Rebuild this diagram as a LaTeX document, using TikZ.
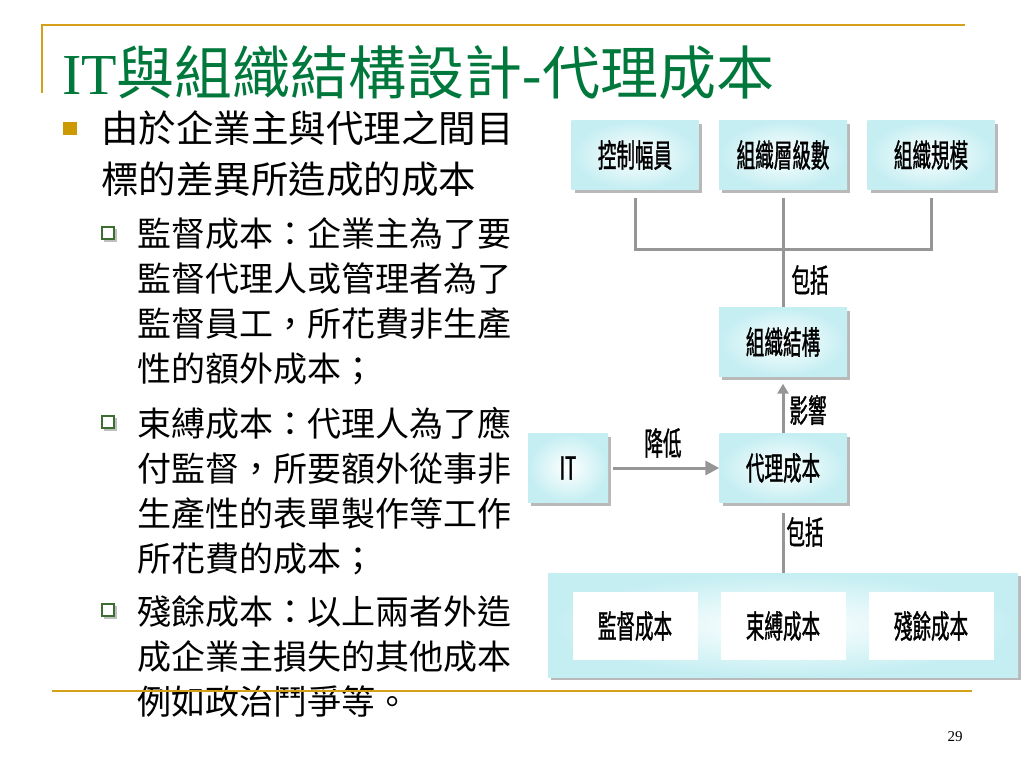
\documentclass[tikz,border=0pt]{standalone}
\usepackage{fontspec}
\setmainfont{Liberation Serif}
\newfontfamily\cjk{Noto Sans CJK TC}
\newfontfamily\diafont[FakeStretch=0.58,FakeBold=1]{Noto Sans CJK TC}
\usetikzlibrary{arrows.meta,shadows}

\definecolor{titlegreen}{RGB}{0,120,60}
\definecolor{rulegold}{RGB}{212,160,23}
\definecolor{bulletgold}{RGB}{204,153,0}
\definecolor{bulletgreen}{RGB}{60,110,50}
\definecolor{boxcyan}{RGB}{196,238,242}
\definecolor{linkgray}{RGB}{150,150,150}

\tikzset{
    box/.style={rectangle, inner sep=0pt, minimum height=69pt,
        inner color=white, outer color=boxcyan,
        drop shadow={shadow xshift=3pt, shadow yshift=-3pt, fill=gray!55, opacity=1},
        font=\diafont\fontsize{32}{34}\selectfont},
    costbox/.style={rectangle, fill=white, inner sep=0pt, minimum width=125pt,
        minimum height=68pt, font=\diafont\fontsize{32}{34}\selectfont},
    link/.style={draw=linkgray, line width=3pt},
    linklabel/.style={font=\diafont\fontsize{32}{34}\selectfont},
    textblock/.style={anchor=north west, inner sep=0pt, align=left},
}

\begin{document}
\begin{tikzpicture}[x=1pt, y=-1pt]
        \useasboundingbox (0,0) rectangle (1024,768);

        % title and rules
        \node[anchor=north west, inner sep=0pt, text=titlegreen, font=\fontsize{58}{62}\selectfont] (title) at (62,45)
            {IT{\cjk 與組織結構設計}-{\cjk 代理成本}};
        \draw[rulegold, line width=2pt] (42,93) -- (42,25) -- (965,25);

        % bullets
        \fill[bulletgold] (63,122) rectangle (77,135);
        \foreach \y in {234, 423, 611} {
            \fill[gray!50] (104,\y-5) rectangle ++(13,13);
            \draw[fill=white, draw=bulletgreen, line width=1.8pt] (102,\y-7) rectangle ++(12,12);
        }
        \node[textblock, font=\cjk\fontsize{37.5}{51}\selectfont] (intro) at (101,110)
            {由於企業主與代理之間目\\標的差異所造成的成本};
        \node[textblock, font=\cjk\fontsize{34}{45}\selectfont] (monitortext) at (137,217)
            {監督成本：企業主為了要\\監督代理人或管理者為了\\監督員工，所花費非生產\\性的額外成本；};
        \node[textblock, font=\cjk\fontsize{34}{45}\selectfont] (bondtext) at (137,407)
            {束縛成本：代理人為了應\\付監督，所要額外從事非\\生產性的表單製作等工作\\所花費的成本；};
        \node[textblock, font=\cjk\fontsize{34}{45}\selectfont] (residualtext) at (137,595)
            {殘餘成本：以上兩者外造\\成企業主損失的其他成本\\例如政治鬥爭等。};

        % diagram
        \node[box, minimum width=127pt] (span) at (635,155) {控制幅員};
        \node[box, minimum width=128pt] (levels) at (783,155) {組織層級數};
        \node[box, minimum width=127pt] (scale) at (931,155) {組織規模};
        \node[box, minimum width=128pt] (structure) at (783,342) {組織結構};
        \node[box, minimum width=80pt] (it) at (568,468) {IT};
        \node[box, minimum width=127pt] (agency) at (783,468) {代理成本};
        \node[box, minimum width=470pt, minimum height=104pt] (costs) at (783,625) {};
        \node[costbox] (monitor) at (635,626) {監督成本};
        \node[costbox] (bonding) at (783,626) {束縛成本};
        \node[costbox] (residual) at (931,626) {殘餘成本};

        \coordinate (join) at (783,249);
        \draw[link] ([yshift=-8pt]span.south) -- (span.south |- join) -- (scale.south |- join) -- ([yshift=-8pt]scale.south);
        \draw[link] ([yshift=-8pt]levels.south) -- (structure.north);
        \node[linklabel] (includes1) at (810,280) {包括};

        \draw[link, -{Triangle[width=11pt, length=10pt]}] (agency.north) -- ([yshift=-7pt]structure.south);
        \node[linklabel] (affects) at (808,410) {影響};

        \draw[link, -{Triangle[width=14pt, length=14pt]}] ([xshift=5pt]it.east) -- (agency.west);
        \node[linklabel] (reduces) at (663,443) {降低};

        \draw[link] ([yshift=-10pt]agency.south) -- (costs.north);
        \node[linklabel] (includes2) at (805,532) {包括};

        % bottom rule and page number
        \draw[rulegold, line width=2pt] (52,691) -- (972,691);
        \node[font=\fontsize{15}{16}\selectfont] (page) at (955,737) {29};
    \end{tikzpicture}
\end{document}
